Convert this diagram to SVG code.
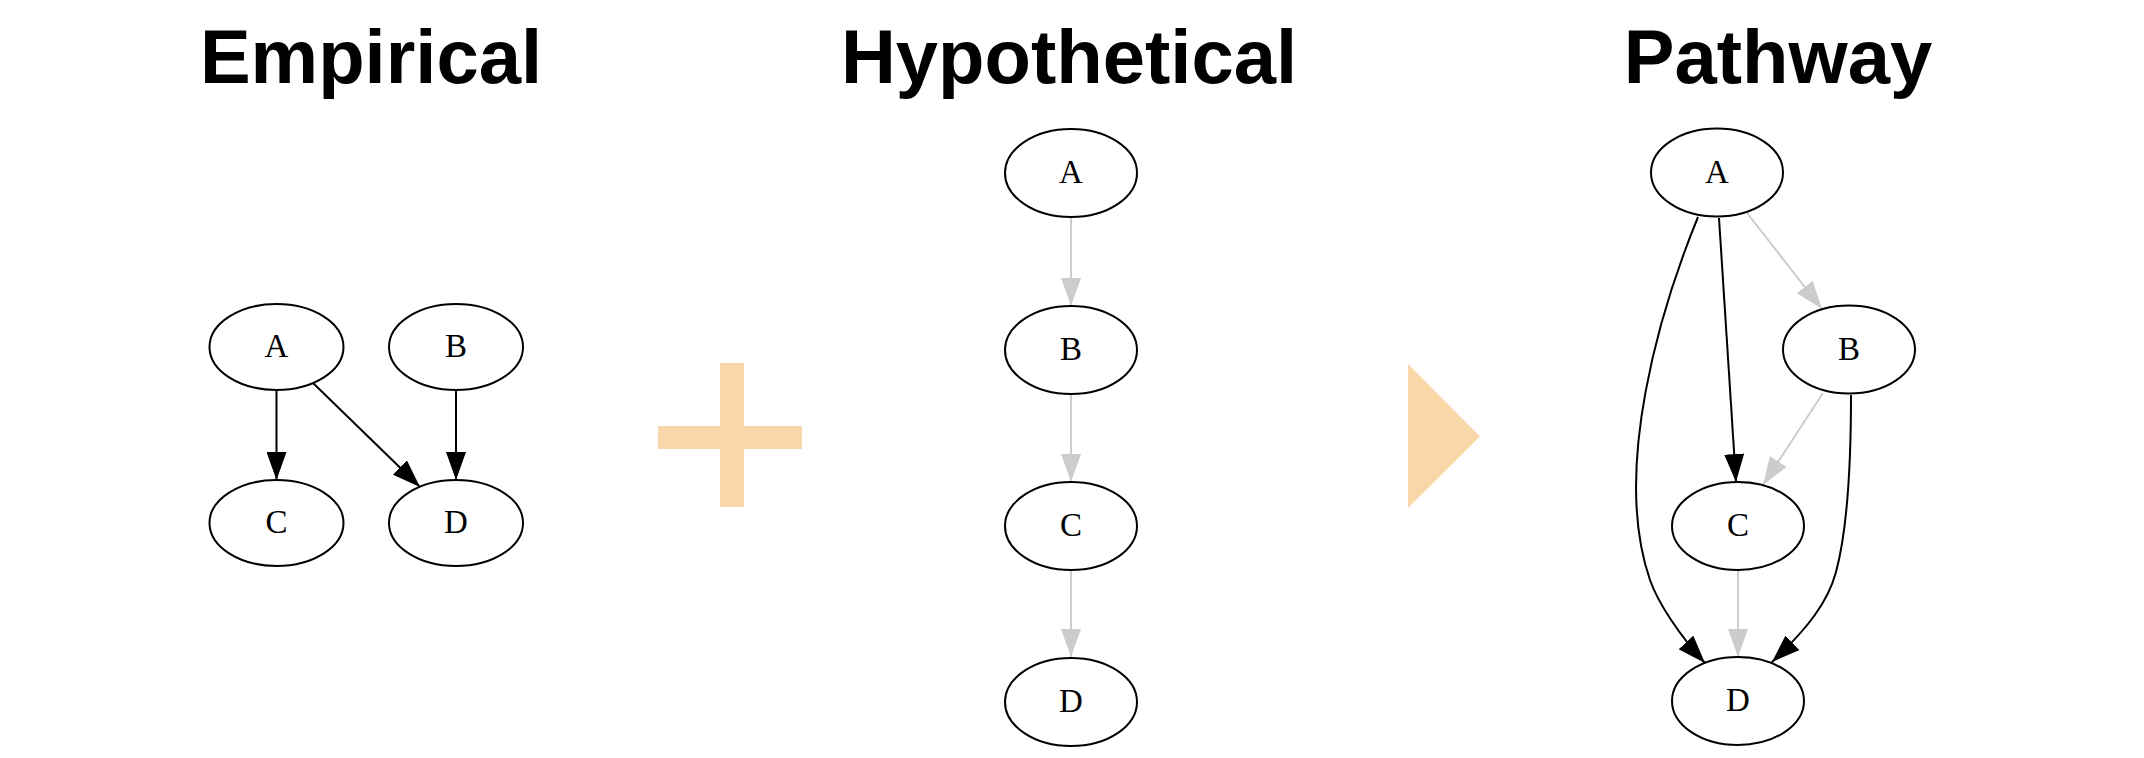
<svg xmlns="http://www.w3.org/2000/svg" width="2144" height="758" viewBox="0 0 2144 758">
<style>
.title{font-family:"Liberation Sans",Arial,Helvetica,sans-serif;font-weight:bold;font-size:76px;fill:#000;text-anchor:middle}
.node ellipse{fill:#fff;stroke:#000;stroke-width:2}
.node text{font-family:"Liberation Serif","Times New Roman",serif;font-size:33px;fill:#000;text-anchor:middle}
.e{fill:none;stroke:#000;stroke-width:2}
.g{fill:none;stroke:#cccccc;stroke-width:2}
.e{marker-end:url(#ab)}
.g{marker-end:url(#ag)}
.deco{fill:#f8d8a8}
</style>
<defs>
<marker id="ab" markerUnits="userSpaceOnUse" markerWidth="28" markerHeight="20" refX="28" refY="10" orient="auto" viewBox="0 0 28 20">
<path d="M0,0 L28,10 L0,20 z" fill="#000"/>
</marker>
<marker id="ag" markerUnits="userSpaceOnUse" markerWidth="28" markerHeight="20" refX="28" refY="10" orient="auto" viewBox="0 0 28 20">
<path d="M0,0 L28,10 L0,20 z" fill="#cccccc"/>
</marker>
</defs>
<rect width="2144" height="758" fill="#fff"/>
<text class="title" x="371" y="83">Empirical</text>
<text class="title" x="1069" y="83">Hypothetical</text>
<text class="title" x="1778" y="83">Pathway</text>
<g id="plus" class="deco">
<rect x="720" y="363" width="24" height="144"/>
<rect x="658" y="426" width="144" height="23"/>
</g>
<polygon id="implies" class="deco" points="1408,364 1480,436.5 1408,508"/>
<g id="connectors">
<path class="e" d="M276.5,390 L276.5,480"/>
<path class="e" d="M313,383 L420,487"/>
<path class="e" d="M456,390 L456,480"/>
<path class="g" d="M1071,218 L1071,306"/>
<path class="g" d="M1071,394 L1071,482"/>
<path class="g" d="M1071,570 L1071,657"/>
<path class="g" d="M1747,213 L1822,309"/>
<path class="e" d="M1719,218 L1736,482"/>
<path class="g" d="M1823,393 L1763,485"/>
<path class="g" d="M1738,570 L1738,657"/>
<path class="e" d="M1698,217 C1660,310 1612,470 1650,580 C1658,603 1680,636 1705,663"/>
<path class="e" d="M1851,395 C1851,470 1846,535 1836,572 C1828,602 1808,628 1772,662"/>
</g>
<g id="emp-A" class="node"><ellipse cx="276.5" cy="347" rx="67" ry="43"/><text x="276.5" y="357">A</text></g>
<g id="emp-B" class="node"><ellipse cx="456" cy="347" rx="67" ry="43"/><text x="456" y="357">B</text></g>
<g id="emp-C" class="node"><ellipse cx="276.5" cy="523" rx="67" ry="43"/><text x="276.5" y="533">C</text></g>
<g id="emp-D" class="node"><ellipse cx="456" cy="523" rx="67" ry="43"/><text x="456" y="533">D</text></g>
<g id="hyp-A" class="node"><ellipse cx="1071" cy="173" rx="66" ry="44"/><text x="1071" y="183">A</text></g>
<g id="hyp-B" class="node"><ellipse cx="1071" cy="350" rx="66" ry="44"/><text x="1071" y="360">B</text></g>
<g id="hyp-C" class="node"><ellipse cx="1071" cy="526" rx="66" ry="44"/><text x="1071" y="536">C</text></g>
<g id="hyp-D" class="node"><ellipse cx="1071" cy="702" rx="66" ry="44"/><text x="1071" y="712">D</text></g>
<g id="path-A" class="node"><ellipse cx="1717" cy="172.5" rx="66" ry="44"/><text x="1717" y="182.5">A</text></g>
<g id="path-B" class="node"><ellipse cx="1849" cy="349.5" rx="66" ry="44"/><text x="1849" y="359.5">B</text></g>
<g id="path-C" class="node"><ellipse cx="1738" cy="526" rx="66" ry="44"/><text x="1738" y="536">C</text></g>
<g id="path-D" class="node"><ellipse cx="1738" cy="701" rx="66" ry="44"/><text x="1738" y="711">D</text></g>
</svg>
